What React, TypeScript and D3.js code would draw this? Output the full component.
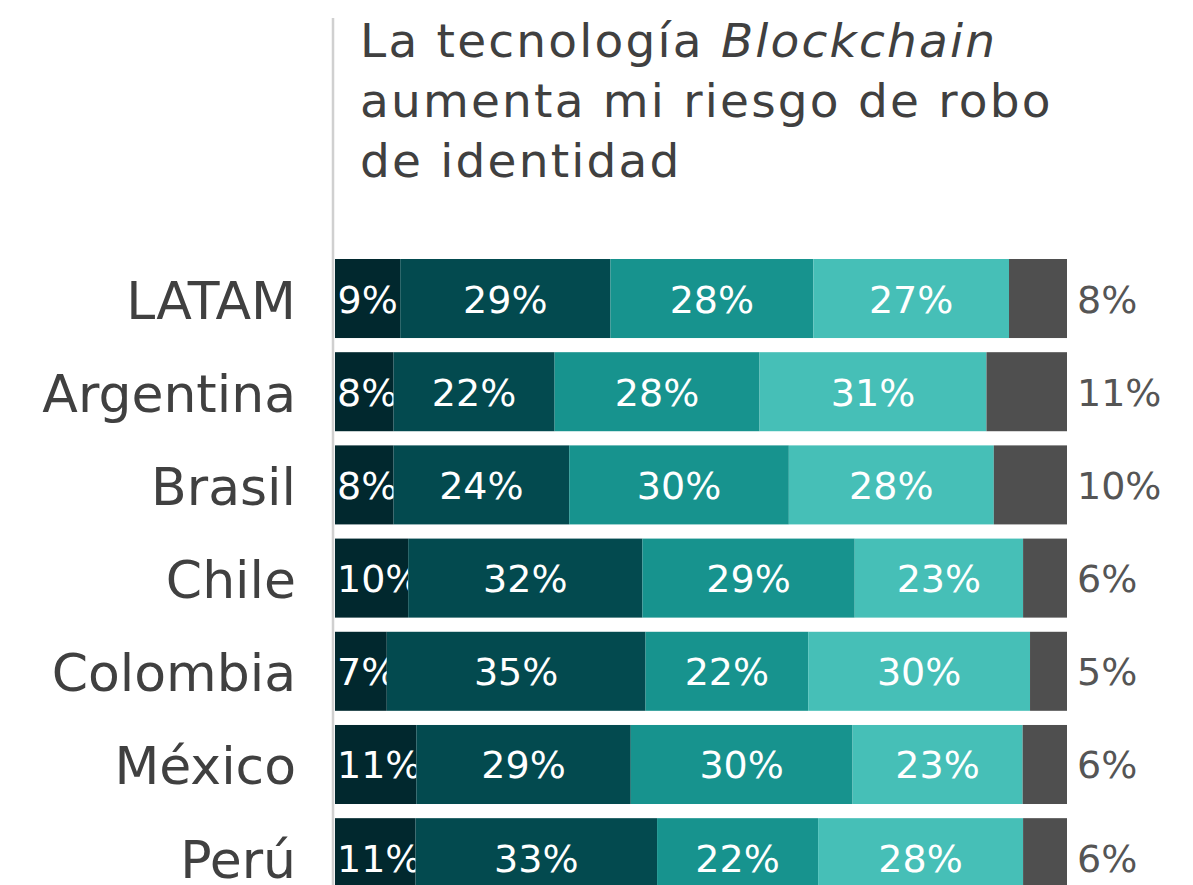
import React, { useEffect, useRef } from "react";
import * as d3 from "d3";

const categories = ["LATAM", "Argentina", "Brasil", "Chile", "Colombia", "México", "Perú"];
const s1 = [9, 8, 8, 10, 7, 11, 11];
const s2 = [29, 22, 24, 32, 35, 29, 33];
const s3 = [28, 28, 30, 29, 22, 30, 22];
const s4 = [27, 31, 28, 23, 30, 23, 28];
const s5 = [8, 11, 10, 6, 5, 6, 6];
const seriesColors = ["#01282e", "#034a4f", "#17938e", "#46bfb7", "#4f4f4f"];
const FONT = "'DejaVu Sans', 'Open Sans', sans-serif";

export default function App() {
  const ref = useRef<SVGSVGElement>(null);
  useEffect(() => {
    document.body.style.margin = "0";
    const svg = d3.select(ref.current);
    svg.selectAll("*").remove();
    const series = [s1, s2, s3, s4, s5];
    const y = d3.scaleBand<string>().domain(categories).range([259, 897.2]).paddingInner(0.152).paddingOuter(0);
    const x = d3.scaleLinear().domain([0, 1]).range([335, 1067]);

    svg.append("line").attr("x1", 333).attr("x2", 333).attr("y1", 18).attr("y2", 885)
      .attr("stroke", "#d0d0d0").attr("stroke-width", 2.5);

    const t = svg.append("text").attr("font-family", FONT).attr("font-size", 47)
      .attr("letter-spacing", 2.2).attr("fill", "#404040");
    const l1 = t.append("tspan").attr("x", 360).attr("y", 57);
    l1.append("tspan").text("La tecnología ");
    l1.append("tspan").attr("font-style", "italic").text("Blockchain");
    t.append("tspan").attr("x", 360).attr("y", 117).text("aumenta mi riesgo de robo");
    t.append("tspan").attr("x", 360).attr("y", 177).text("de identidad");

    categories.forEach((c, i) => {
      const vals = series.map((s) => s[i]);
      const total = d3.sum(vals);
      let cum = 0;
      const y0 = y(c)!;
      const bw = y.bandwidth();
      const cy = y0 + bw / 2;
      svg.append("text").attr("x", 296).attr("y", cy + 20).attr("text-anchor", "end")
        .attr("font-family", FONT).attr("font-size", 52).attr("fill", "#404040").text(c);
      vals.forEach((v, j) => {
        const a = x(cum / total);
        const b = x((cum + v) / total);
        cum += v;
        svg.append("rect").attr("x", a).attr("y", y0).attr("width", b - a).attr("height", bw).attr("fill", seriesColors[j]);
        if (j < 4) {
          const lab = svg.append("text").attr("y", cy + 14).attr("text-anchor", "start")
            .attr("font-family", FONT).attr("font-size", 38).attr("fill", "#ffffff").text(v + "%");
          const w = (lab.node() as SVGTextElement).getComputedTextLength();
          lab.attr("x", Math.max((a + b) / 2 - w / 2, 337));
        } else {
          svg.append("text").attr("x", 1077).attr("y", cy + 14).attr("text-anchor", "start")
            .attr("font-family", FONT).attr("font-size", 38).attr("fill", "#555555").text(v + "%");
        }
      });
    });
  }, []);
  return <svg ref={ref} width={1193} height={885} style={{ display: "block", background: "#fff" }} />;
}
